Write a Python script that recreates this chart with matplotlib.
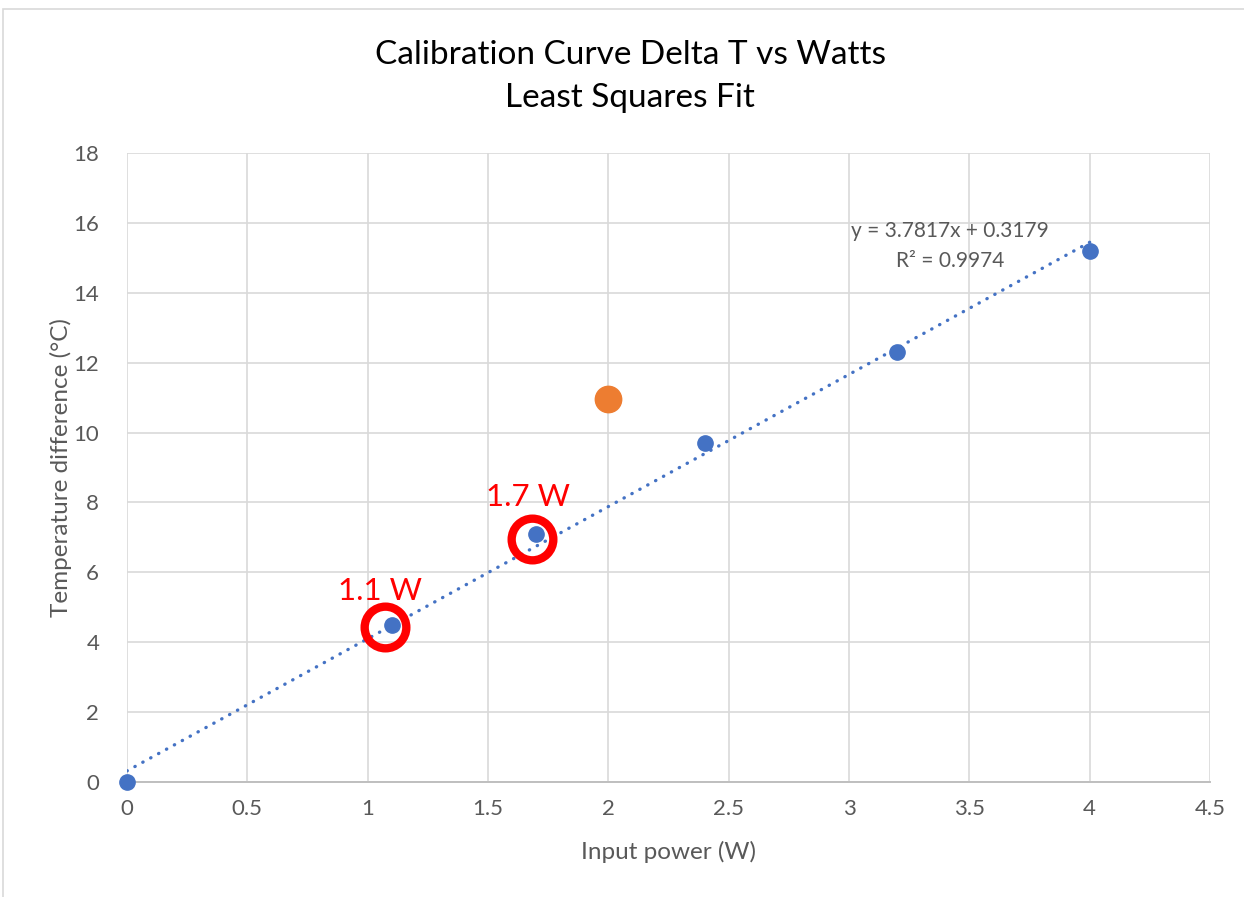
import numpy as np
import matplotlib.pyplot as plt
from matplotlib.patches import Rectangle

plt.rcParams['font.family'] = ['Lato', 'DejaVu Sans']

# calibration points: input power (W) vs temperature difference (C)
power = [0, 1.1, 1.7, 2.4, 3.2, 4.0]
delta_t = [0, 4.5, 7.1, 9.7, 12.3, 15.2]

# outlier point
outlier_power = [2.0]
outlier_dt = [10.97]

# least squares fit coefficients as reported
slope = 3.7817
intercept = 0.3179
r_squared = 0.9974

# highlighted measurements
mark_power = [1.07, 1.683]
mark_dt = [4.44, 6.95]
mark_labels = ['1.1 W', '1.7 W']
label_pos = [(1.051, 5.2), (1.666, 7.9)]

grey = '#595959'

fig = plt.figure(figsize=(12.44, 8.97), dpi=100)
fig.patches.append(Rectangle((3 / 1244, -0.01), 1.1, 1 - 9 / 897 + 0.01, transform=fig.transFigure,
                             fill=False, edgecolor='#d9d9d9', linewidth=1.2))
ax = fig.add_axes([127 / 1244, 1 - 782 / 897, (1210 - 127) / 1244, (782 - 153) / 897])

ax.set_xlim(0, 4.5)
ax.set_ylim(0, 18)
ax.set_xticks(np.arange(0, 4.51, 0.5))
ax.set_xticklabels(['0', '0.5', '1', '1.5', '2', '2.5', '3', '3.5', '4', '4.5'])
ax.set_yticks(np.arange(0, 19, 2))
ax.grid(True, color='#d9d9d9', linewidth=1.2)
ax.set_axisbelow(True)
for s in ['top', 'right', 'left']:
    ax.spines[s].set_visible(False)
ax.spines['bottom'].set_color('#bfbfbf')
ax.spines['bottom'].set_linewidth(1.4)
ax.tick_params(length=0, labelsize=16, labelcolor=grey, pad=12)
ax.tick_params(axis='y', pad=20)

# trendline
xf = np.array([0, 4.0])
ax.plot(xf, slope * xf + intercept, color='#4472c4', linewidth=2.4,
        dashes=(0.1, 2.6), dash_capstyle='round', zorder=2)

ax.plot(power, delta_t, 'o', color='#4472c4', markersize=11, zorder=3, clip_on=False)
ax.plot(outlier_power, outlier_dt, 'o', color='#ed7d31', markersize=19, zorder=3)

ax.plot(mark_power, mark_dt, 'o', markerfacecolor='none', markeredgecolor='#ff0000',
        markersize=30, markeredgewidth=6, zorder=4)
for lab, (lx, ly) in zip(mark_labels, label_pos):
    ax.text(lx, ly, lab, color='#ff0000', fontsize=22.5, ha='center', va='baseline')

ax.text(3.42, 15.6, f'y = {slope}x + {intercept}', color=grey, fontsize=15, ha='center', va='baseline')
ax.text(3.42, 14.75, f'R² = {r_squared}', color=grey, fontsize=15, ha='center', va='baseline')

ax.set_xlabel('Input power (W)', fontsize=17.5, color=grey, labelpad=16)
ax.set_ylabel('Temperature difference (°C)', fontsize=17.5, color=grey, labelpad=1)

fig.text(630 / 1244, 1 - 55 / 897, 'Calibration Curve Delta T vs Watts', fontsize=24,
         ha='center', va='center', color='black')
fig.text(630 / 1244, 1 - 98 / 897, 'Least Squares Fit', fontsize=24,
         ha='center', va='center', color='black')

fig.savefig('out.png', dpi=100)
